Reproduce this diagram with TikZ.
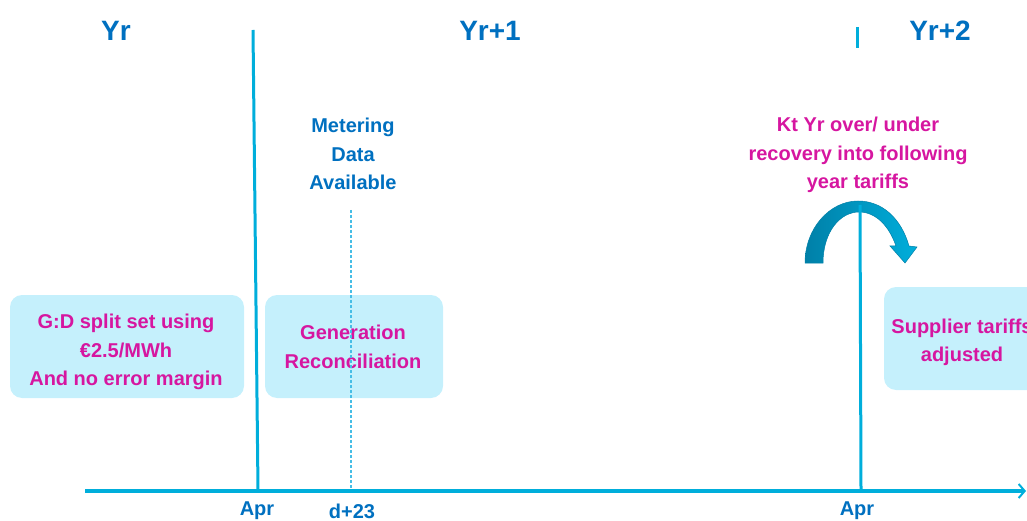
\documentclass[tikz,border=0pt]{standalone}
\usepackage{fontspec}
\setmainfont{Liberation Sans}
\usetikzlibrary{arrows.meta}
\definecolor{tblue}{RGB}{0,112,192}
\definecolor{tmag}{RGB}{214,22,160}
\definecolor{tbox}{RGB}{197,240,252}
\definecolor{tline}{RGB}{0,174,219}
\definecolor{tdash}{RGB}{70,190,230}
\definecolor{tdark}{RGB}{0,128,168}
\tikzset{
  yrlabel/.style={text=tblue,font=\fontsize{28}{32}\selectfont\bfseries},
  bluetext/.style={text=tblue,font=\fontsize{20}{28.5}\selectfont\bfseries,align=center},
  magtext/.style={text=tmag,font=\fontsize{20}{28.5}\selectfont\bfseries,align=center},
  boxnode/.style={fill=tbox,rounded corners=12pt,inner sep=0pt},
  vline/.style={draw=tline,line width=3pt},
  axisline/.style={draw=tline,line width=4pt,-{Straight Barb[length=6pt,width=14pt,line width=2pt]}},
  dline/.style={draw=tdash,line width=1.2pt,dash pattern=on 3pt off 2pt},
}
\begin{document}
\begin{tikzpicture}[x=1pt,y=-1pt]
\useasboundingbox (0,0) rectangle (1027,521);
% year labels
\node[yrlabel] (yr) at (116,31) {Yr};
\node[yrlabel] (yr1) at (490,31) {Yr+1};
\node[yrlabel] (yr2) at (940,31) {Yr+2};
% top texts
\node[bluetext] (meter) at (353,154) {Metering\\Data\\Available};
\node[magtext] (kt) at (858,155) {Kt Yr over/ under\\recovery into following\\year tariffs};
% boxes
\node[boxnode,minimum width=234pt,minimum height=103pt] (gd) at (127,346.5) {};
\node[boxnode,minimum width=178pt,minimum height=103pt] (gen) at (354,346.5) {};
\node[boxnode,minimum width=160pt,minimum height=103pt] (sup) at (964,338.5) {};
\node[magtext] (gdt) at (126,352) {G:D split set using\\€2.5/MWh\\And no error margin};
\node[magtext] (gent) at (353,347) {Generation\\Reconciliation};
\node[magtext] (supt) at (962,342.5) {Supplier tariffs\\adjusted};
% axis coordinates
\coordinate (ax0) at (85,491);
\coordinate (ax1) at (1026,491);
\coordinate (v1t) at (253,30);
\coordinate (v1b) at (258,490);
\coordinate (v2t) at (857,27);
\coordinate (v2m) at (857,48);
\coordinate (v2a) at (860,205);
\coordinate (v2b) at (861,490);
\coordinate (dt) at (351,210);
\coordinate (db) at (351,489);
% curved arrow
\shade[left color=tdark,right color=tline,draw=tdark,line width=0.5pt]
  (805,263) .. controls (805,228) and (830,201) .. (858,201)
  .. controls (882,201) and (901,218) .. (909,246)
  -- (917,247) -- (905,263) -- (890,246) -- (896,246)
  .. controls (889,226) and (876,212) .. (859,212)
  .. controls (840,212) and (823,232) .. (823,263) -- cycle;
% lines
\draw[dline] (dt) -- (db);
\draw[vline] (v1t) -- (v1b);
\draw[vline] (v2t) -- (v2m);
\draw[vline] (v2a) -- (v2b);
\draw[axisline] (ax0) -- (ax1);
% axis labels
\node[bluetext] (apr1) at (257,511) {Apr};
\node[bluetext] (d23) at (352,511) {d+23};
\node[bluetext] (apr2) at (857,511) {Apr};
\end{tikzpicture}
\end{document}
